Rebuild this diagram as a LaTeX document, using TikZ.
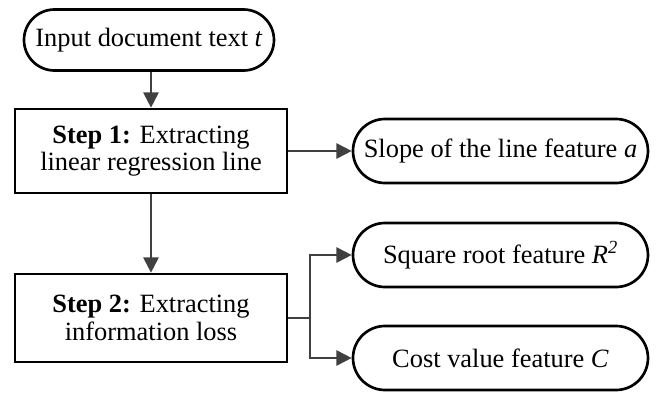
\documentclass[tikz,border=0pt]{standalone}
\usepackage{fontspec}
\setmainfont{Liberation Serif}
\usetikzlibrary{arrows.meta,shapes.misc,positioning}

\begin{document}
\begin{tikzpicture}[x=0.75pt,y=-0.75pt,
    font=\fontsize{19.8}{20.5}\selectfont,
    oval/.style={draw, rounded rectangle, line width=2pt, inner sep=0pt, minimum width=221.25pt, minimum height=48pt},
    stepbox/.style={draw, rectangle, line width=2pt, align=center, inner sep=0pt, minimum width=204pt},
    arr/.style={-{Triangle[length=11.5pt,width=11.5pt]}, line width=1.4pt, draw=black!75, color=black!75}]
    \useasboundingbox (0,0) rectangle (662,394);
    \node[oval, minimum width=187.5pt, minimum height=45.75pt] (in) at (149,40) {Input document text \textit{t}};
    \node[stepbox, minimum height=63pt] (s1) at (151,151) {\textbf{Step 1:} Extracting\\linear regression line};
    \node[stepbox, minimum height=66pt] (s2) at (151,318) {\textbf{Step 2:} Extracting\\information loss};
    \node[oval] (f1) at (500.5,151) {Slope of the line feature \textit{a}};
    \node[oval] (f2) at (500.5,255) {Square root feature \textit{R\textsuperscript{2}}};
    \node[oval] (f3) at (500.5,358) {Cost value feature \textit{C}};
    \coordinate (br) at (310,318);
    \draw[arr] (in.south -| s1) -- (s1);
    \draw[arr] (s1) -- (s2);
    \draw[arr] (s1) -- (f1);
    \draw[line width=1.4pt, black!75] (s2.east) -- (br);
    \draw[arr] (br) |- (f2);
    \draw[arr] (br) |- (f3);
\end{tikzpicture}
\end{document}
